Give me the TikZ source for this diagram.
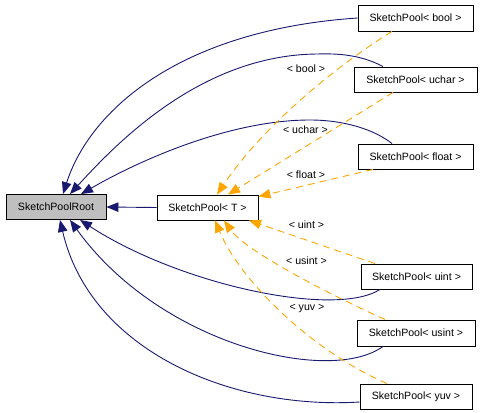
\documentclass[tikz,border=0pt]{standalone}
\usepackage{fontspec}
\setmainfont{Liberation Sans}
\usetikzlibrary{arrows.meta}
\definecolor{edgeblue}{HTML}{191970}
\definecolor{edgeorange}{HTML}{FFA500}
\definecolor{rootgray}{HTML}{BFBFBF}
\begin{document}
\begin{tikzpicture}[x=1pt,y=-1pt,
  cls/.style={draw=black, line width=0.9pt, fill=white, minimum height=25pt, inner xsep=0pt, inner ysep=0pt, font=\fontsize{10.6}{12}\selectfont},
  inh/.style={draw=edgeblue, line width=0.9pt, -{Triangle[length=12pt,width=9.5pt]}},
  tplt/.style={draw=edgeorange, line width=0.9pt, dash pattern=on 7pt off 5pt, -{Triangle[length=12pt,width=9.5pt]}},
  lbl/.style={font=\fontsize{10.6}{12}\selectfont, inner sep=0pt}]
\useasboundingbox (0,0) rectangle (483,413);
% nodes
\node[cls, fill=rootgray, minimum width=100pt] (root) at (56,207) {SketchPoolRoot};
\node[cls, minimum width=101pt] (tnode) at (207.5,207.5) {SketchPool< T >};
\node[cls, minimum width=115pt, minimum height=26pt] (bool) at (415.5,18) {SketchPool< bool >};
\node[cls, minimum width=123pt] (uchar) at (415.5,79.5) {SketchPool< uchar >};
\node[cls, minimum width=115pt] (float) at (415.5,156.5) {SketchPool< float >};
\node[cls, minimum width=111pt] (uint) at (416.5,276.5) {SketchPool< uint >};
\node[cls, minimum width=118pt, minimum height=26pt] (usint) at (416,333) {SketchPool< usint >};
\node[cls, minimum width=112pt] (yuv) at (416,396.5) {SketchPool< yuv >};
% inheritance edges
\draw[inh] (tnode.west) -- (root.east);
\draw[inh] (bool.west) .. controls (180,30) and (90,110) .. ([xshift=7pt]root.north);
\draw[inh] ([xshift=-32.5pt]uchar.north) .. controls (365,57) and (345,53) .. (317,54) .. controls (200,55) and (115,145) .. ([xshift=14pt]root.north);
\draw[inh] ([xshift=-23.5pt]float.north) .. controls (375,130) and (345,120) .. (310,120) .. controls (230,120) and (140,160) .. ([xshift=25pt]root.north);
\draw[inh] ([xshift=-36.5pt]uint.south) .. controls (335,318) and (180,285) .. ([xshift=24pt]root.south);
\draw[inh] ([xshift=-33pt]usint.south) .. controls (330,385) and (160,345) .. ([xshift=14pt]root.south);
\draw[inh] ([yshift=-5.5pt]yuv.west) .. controls (230,410) and (90,350) .. ([xshift=4pt]root.south);
% template instantiation edges
\draw[tplt] ([xshift=-23.5pt]bool.south) .. controls (330,70) and (260,130) .. ([xshift=9.5pt]tnode.north);
\draw[tplt] ([xshift=-22.5pt]uchar.south) -- ([xshift=20.5pt]tnode.north);
\draw[tplt] ([xshift=-42.5pt]float.south) -- ([yshift=-2pt]tnode.north east);
\draw[tplt] ([xshift=-41.5pt]uint.north) -- ([xshift=41.5pt]tnode.south);
\draw[tplt] ([xshift=-31pt]usint.north) .. controls (320,290) and (245,250) .. ([xshift=16.5pt]tnode.south);
\draw[tplt] ([xshift=-29pt]yuv.north) .. controls (310,350) and (240,280) .. ([xshift=7.5pt]tnode.south);
% labels
\node[lbl] (lbool) at (306,69) {< bool >};
\node[lbl] (luchar) at (305.5,130) {< uchar >};
\node[lbl] (lfloat) at (306,175) {< float >};
\node[lbl] (luint) at (306.5,225) {< uint >};
\node[lbl] (lusint) at (306.5,261) {< usint >};
\node[lbl] (lyuv) at (307,309) {< yuv >};
\end{tikzpicture}
\end{document}
